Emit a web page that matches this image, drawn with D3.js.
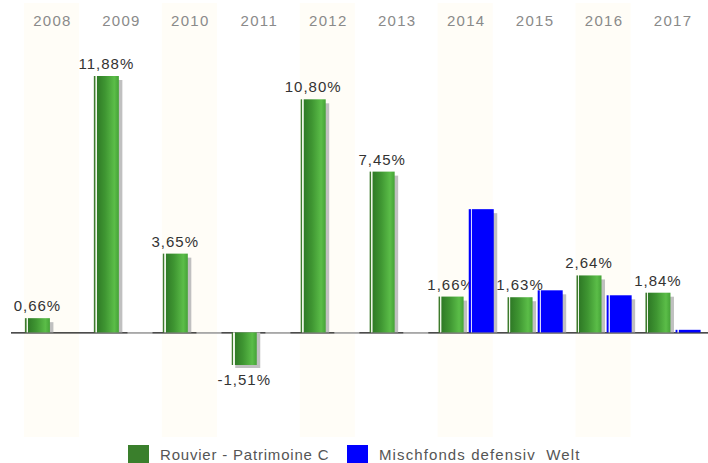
<!DOCTYPE html>
<html>
<head>
<meta charset="utf-8">
<script src="https://cdn.jsdelivr.net/npm/d3@7"></script>
<style>
  html, body { margin: 0; padding: 0; background: #fff; }
  svg { display: block; font-family: "Liberation Sans", Arial, sans-serif; }
</style>
</head>
<body>
<svg id="chart" width="708" height="463"></svg>
<script>
const years = ["2008","2009","2010","2011","2012","2013","2014","2015","2016","2017"];
const fundValues = [0.66, 11.88, 3.65, -1.51, 10.80, 7.45, 1.66, 1.63, 2.64, 1.84];
const benchValues = [null, 0, 0, 0, 0, 0, 5.71, 1.95, 1.72, 0.12];
const seriesNames = ["Rouvier - Patrimoine C", "Mischfonds defensiv  Welt"];
const seriesColors = ["#3a7f2c", "#0000ff"];

const svg = d3.select("#chart");

const x0 = d3.scaleBand().domain(years).range([18, 707.5]).paddingInner(0.2).paddingOuter(0.1);
const x1 = d3.scaleBand().domain([0, 1]).range([0, x0.bandwidth()]).paddingInner(0.17);
const y = d3.scaleLinear().domain([-1.51, 11.88]).range([365, 76]);

const defs = svg.append("defs");
const g1 = defs.append("linearGradient").attr("id", "gGreen").attr("x1", "0").attr("x2", "1").attr("y1", "0").attr("y2", "0");
[[0, "#3d7b2d"], [0.06, "#3d7b2d"], [0.07, "#eef6e8"], [0.11, "#eef6e8"], [0.12, "#2f7a26"], [0.45, "#3f9632"], [0.82, "#5bbd48"], [1, "#45a337"]]
  .forEach(([o, c]) => g1.append("stop").attr("offset", o).attr("stop-color", c));
const g2 = defs.append("linearGradient").attr("id", "gBlue").attr("x1", "0").attr("x2", "1").attr("y1", "0").attr("y2", "0");
[[0, "#0000ff"], [0.07, "#0000ff"], [0.08, "#d8d8ff"], [0.12, "#d8d8ff"], [0.13, "#0000ff"], [1, "#0000ff"]]
  .forEach(([o, c]) => g2.append("stop").attr("offset", o).attr("stop-color", c));

// alternating background bands
svg.append("g").selectAll("rect").data(years.filter((d, i) => i % 2 === 0)).join("rect")
  .attr("x", d => x0(d) - 1).attr("y", 3).attr("width", x0.bandwidth()).attr("height", 434)
  .attr("fill", "#fffdf7");

// year labels
svg.append("g").selectAll("text").data(years).join("text")
  .attr("x", d => x0(d) + x0.bandwidth() / 2).attr("y", 26)
  .attr("text-anchor", "middle").attr("fill", "#8a8a8a").style("font-size", "15px").style("letter-spacing", "1.3px")
  .text(d => d);

// baseline
svg.append("line").attr("x1", 11).attr("x2", 708).attr("y1", y(0) + 0.5).attr("y2", y(0) + 0.5)
  .attr("stroke", "#111").attr("stroke-width", 1.2);

const fundData = years.map((yr, i) => ({ yr, v: fundValues[i] }));
const benchData = years.map((yr, i) => ({ yr, v: benchValues[i] })).filter(d => d.v !== null);

function drawBars(data, idx, fill) {
  const g = svg.append("g");
  const bx = d => x0(d.yr) + x1(idx);
  // shadow
  g.selectAll("rect.sh").data(data).join("rect").attr("class", "sh")
    .attr("x", d => bx(d) + 3.5)
    .attr("y", d => d.v > 0 ? y(d.v) + 4 : (d.v === 0 ? y(0) - 0.2 : y(0)))
    .attr("width", x1.bandwidth())
    .attr("height", d => d.v === 0 ? 1.6 : Math.abs(y(d.v) - y(0)) + (d.v >= 0 ? -4 : 3))
    .attr("fill", "#c0c0c0");
  g.selectAll("rect.bar").data(data.filter(d => d.v !== 0)).join("rect").attr("class", "bar")
    .attr("x", bx)
    .attr("y", d => Math.min(y(d.v), y(0)))
    .attr("width", x1.bandwidth())
    .attr("height", d => Math.abs(y(d.v) - y(0)))
    .attr("fill", fill);
}

drawBars(fundData, 0, "url(#gGreen)");

// value labels for fund
svg.append("g").selectAll("text").data(fundData).join("text")
  .attr("x", d => x0(d.yr) + x1(0) + x1.bandwidth() / 2)
  .attr("y", d => d.v >= 0 ? y(d.v) - 7 : y(d.v) + 20)
  .attr("text-anchor", "middle").attr("fill", "#333").style("font-size", "15px").style("letter-spacing", "1px")
  .text(d => d3.format(".2f")(d.v).replace(".", ",").replace("\u2212", "-") + "%");

drawBars(benchData, 1, "url(#gBlue)");

// legend
const leg = svg.append("g");
const legX = [128, 347];
const legSpacing = ["0.8px", "1.1px"];
seriesNames.forEach((name, i) => {
  leg.append("rect").attr("x", legX[i]).attr("y", 445).attr("width", 21).attr("height", 18).attr("fill", seriesColors[i]);
  leg.append("text").attr("x", legX[i] + 32).attr("y", 460).attr("fill", "#555")
    .style("font-size", "15px").style("letter-spacing", legSpacing[i]).style("white-space", "pre").text(name);
});
</script>
</body>
</html>
